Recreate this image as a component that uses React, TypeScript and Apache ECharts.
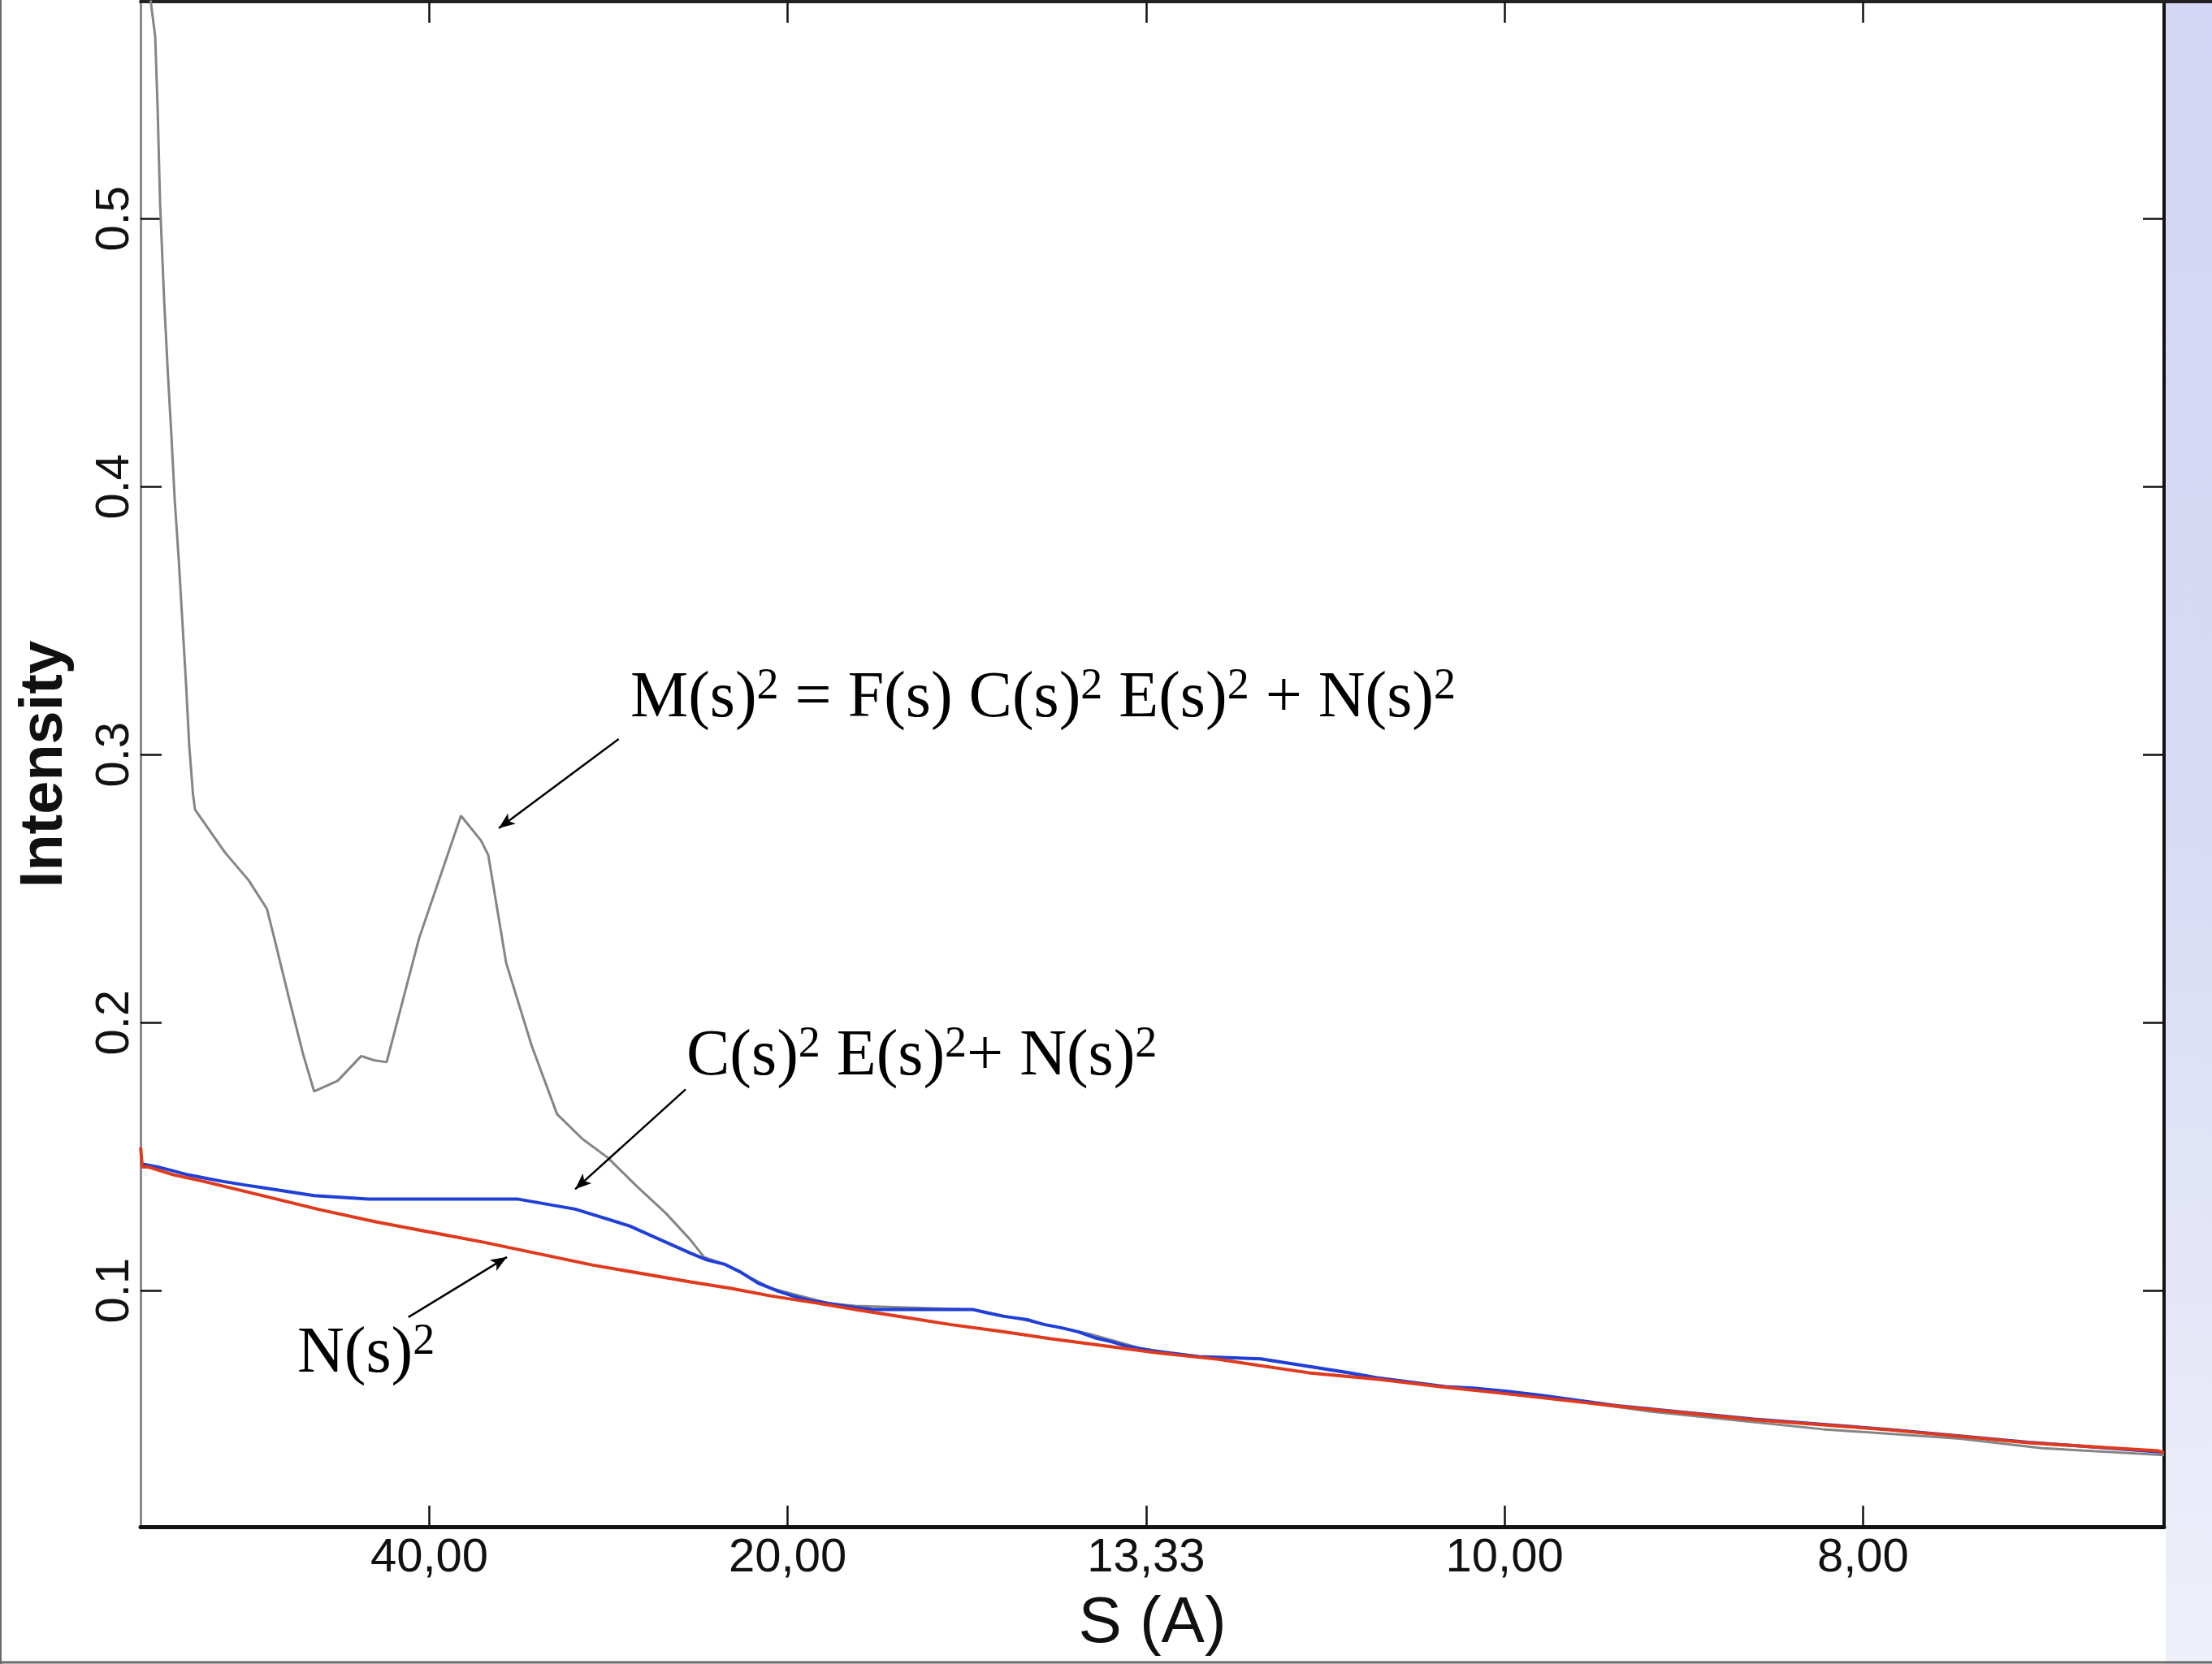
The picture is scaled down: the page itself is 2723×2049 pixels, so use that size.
import React, { useEffect, useRef } from "react";
import * as echarts from "echarts";

const W = 2723;
const H = 2049;

// x axis: spatial frequency s (1/Å); labels show the resolution 1/s
const xTickResolution = [40, 20, 13.333, 10, 8];
const yTicks = [0.1, 0.2, 0.3, 0.4, 0.5];
const xMin = 0.00486;
const xMax = 0.146;
const yMin = 0.0119;
const yMax = 0.581;

// M(s)^2 = F(s) C(s)^2 E(s)^2 + N(s)^2  (grey, measured)
const grayS = [
  0.005487, 0.005883, 0.006054, 0.006223, 0.006507, 0.006762, 0.007017, 0.007243, 0.007527,
  0.007781, 0.008036, 0.008263, 0.008518, 0.00866, 0.010756, 0.012399, 0.013679, 0.014184,
  0.015175, 0.016195, 0.016966, 0.018609, 0.020252, 0.021125, 0.022025, 0.024297, 0.02721,
  0.028603, 0.029113, 0.03036, 0.032144, 0.033912, 0.035685, 0.037442, 0.039481, 0.041498,
  0.04322, 0.044161, 0.045572, 0.048858, 0.052852, 0.054722, 0.06305, 0.066337, 0.071152,
  0.074693, 0.078688, 0.082994, 0.086337, 0.091096, 0.095895, 0.1002, 0.110241, 0.1222,
  0.131752, 0.137498, 0.146,
];
const grayI = [
  0.58467, 0.568, 0.54073, 0.50588, 0.46952, 0.44285, 0.41861, 0.39527, 0.37255,
  0.34952, 0.32618, 0.30285, 0.28527, 0.27952, 0.26345, 0.25315, 0.24242, 0.23164,
  0.20997, 0.1883, 0.17439, 0.1783, 0.18755, 0.186, 0.18527, 0.23164, 0.27721,
  0.268, 0.26255, 0.22233, 0.19139, 0.16588, 0.15661, 0.14967, 0.13891, 0.12891,
  0.11891, 0.11255, 0.10991, 0.10082, 0.09527, 0.09436, 0.09285, 0.08921, 0.08376,
  0.07839, 0.07536, 0.07458, 0.07164, 0.06739, 0.06397, 0.06224, 0.05488, 0.0483,
  0.04476, 0.04124, 0.03861,
];

// C(s)^2 E(s)^2 + N(s)^2  (blue)
const blueS = [
  0.00487, 0.006054, 0.007158, 0.00815, 0.009311, 0.010643, 0.012031, 0.013674, 0.016966,
  0.020762, 0.03113, 0.035175, 0.038971, 0.04322, 0.044393, 0.045572, 0.046733, 0.047923,
  0.049328, 0.050501, 0.051662, 0.054268, 0.055911, 0.062937, 0.0639, 0.065067, 0.06671,
  0.067866, 0.069056, 0.070246, 0.071407, 0.072569, 0.073532, 0.075629, 0.078688, 0.082994,
  0.086337, 0.089204, 0.091096, 0.095895, 0.097809, 0.1002, 0.102597, 0.107849, 0.117413,
  0.12696, 0.136535, 0.146,
];
const blueI = [
  0.14739, 0.14618, 0.14467, 0.14324, 0.14203, 0.14073, 0.13952, 0.13821, 0.13545,
  0.13421, 0.13421, 0.13042, 0.12415, 0.11397, 0.11142, 0.10991, 0.10688, 0.10285,
  0.09982, 0.09779, 0.09627, 0.09406, 0.09294, 0.09294, 0.09173, 0.09042, 0.08921,
  0.08739, 0.08618, 0.08467, 0.08245, 0.08094, 0.07942, 0.07739, 0.07536, 0.07458,
  0.07173, 0.0693, 0.06748, 0.06421, 0.06367, 0.06245, 0.06094, 0.05709, 0.05209,
  0.04815, 0.04345, 0.03967,
];

// N(s)^2  (red)
const redS = [
  0.00487, 0.004977, 0.005374, 0.007158, 0.009311, 0.011408, 0.013447, 0.017442, 0.021266,
  0.028852, 0.036422, 0.04322, 0.046053, 0.048858, 0.052144, 0.054966, 0.058235, 0.061294,
  0.064807, 0.068354, 0.072116, 0.075629, 0.080048, 0.086337, 0.091096, 0.095895, 0.099708,
  0.107849, 0.117413, 0.12696, 0.136535, 0.1456, 0.146,
];
const redI = [
  0.15345, 0.14618, 0.1462, 0.14324, 0.14073, 0.138, 0.13536, 0.13012, 0.1257,
  0.118, 0.10952, 0.10327, 0.10082, 0.098, 0.09527, 0.09276, 0.09003, 0.08739,
  0.08488, 0.08203, 0.07942, 0.07688, 0.07436, 0.06936, 0.067, 0.06397, 0.06179,
  0.05688, 0.05185, 0.048, 0.04324, 0.04021, 0.03952,
];

// annotation arrows: [tail s, tail I, head s, head I]
const arrows = [
  [0.038212, 0.30588, 0.029849, 0.27255],
  [0.042881, 0.17512, 0.035175, 0.13785],
  [0.023544, 0.09012, 0.030416, 0.11255],
];

// annotation formulas, as [text, superscript] runs
const labelRuns: [string, string][][] = [
  [["M(s)", "2"], [" = F(s) C(s)", "2"], [" E(s)", "2"], [" + N(s)", "2"]],
  [["C(s)", "2"], [" E(s)", "2"], ["+ N(s)", "2"]],
  [["N(s)", "2"]],
];

const zip = (a: number[], b: number[]) => a.map((v, i) => [v, b[i]]);

export default function App() {
  const ref = useRef<HTMLDivElement>(null);

  useEffect(() => {
    if (!ref.current) return;
    const chart = echarts.init(ref.current, undefined, { renderer: "svg" });
    const xTickS = xTickResolution.map((r) => 1 / r);
    const sans = "Liberation Sans";
    const serif = "Liberation Serif";

    const xBase = {
      type: "value" as const,
      min: xMin,
      max: xMax,
      splitLine: { show: false },
    };
    const yBase = {
      type: "value" as const,
      min: yMin,
      max: yMax,
      splitLine: { show: false },
    };

    const labelPos = [
      [776, 855],
      [845, 1296],
      [366, 1662],
    ];

    const richText = (runs: [string, string][]) =>
      runs.map(([t, s]) => `{t|${t}}{s|${s}}`).join("");

    chart.setOption({
      animation: false,
      backgroundColor: "#ffffff",
      grid: {
        left: 173,
        right: 59,
        top: 2,
        bottom: 169,
        containLabel: false,
        outerBoundsMode: "none",
      },
      xAxis: [
        {
          ...xBase,
          position: "bottom",
          axisLine: { show: true, onZero: false, lineStyle: { color: "#111", width: 5 } },
          axisTick: {
            show: true,
            inside: true,
            length: 26,
            customValues: xTickS,
            lineStyle: { color: "#111", width: 2.5 },
          },
          axisLabel: {
            show: true,
            customValues: xTickS,
            formatter: (v: number) => (1 / v).toFixed(2).replace(".", ","),
            fontFamily: sans,
            fontSize: 58,
            color: "#111",
            margin: 5,
          },
          name: "S (A)",
          nameLocation: "middle",
          nameGap: 74,
          nameTextStyle: { fontFamily: sans, fontSize: 80, color: "#111" },
        },
        {
          ...xBase,
          position: "top",
          axisLine: { show: true, onZero: false, lineStyle: { color: "#222", width: 4 } },
          axisTick: {
            show: true,
            inside: true,
            length: 26,
            customValues: xTickS,
            lineStyle: { color: "#111", width: 2.5 },
          },
          axisLabel: { show: false },
        },
      ],
      yAxis: [
        {
          ...yBase,
          position: "left",
          axisLine: { show: true, onZero: false, lineStyle: { color: "#8a8a8a", width: 3 } },
          axisTick: {
            show: true,
            inside: true,
            length: 26,
            customValues: yTicks,
            lineStyle: { color: "#111", width: 2.5 },
          },
          axisLabel: {
            show: true,
            customValues: yTicks,
            rotate: 90,
            formatter: (v: number) => String(Math.round(v * 10) / 10),
            fontFamily: sans,
            fontSize: 58,
            color: "#111",
            margin: 7,
          },
          name: "Intensity",
          nameLocation: "middle",
          nameGap: 86,
          nameTextStyle: { fontFamily: sans, fontSize: 74, fontWeight: "bold", color: "#111" },
        },
        {
          ...yBase,
          position: "right",
          axisLine: { show: true, onZero: false, lineStyle: { color: "#111", width: 4 } },
          axisTick: {
            show: true,
            inside: true,
            length: 26,
            customValues: yTicks,
            lineStyle: { color: "#111", width: 2.5 },
          },
          axisLabel: { show: false },
        },
      ],
      series: [
        {
          type: "line",
          name: "M(s)^2",
          data: zip(grayS, grayI),
          showSymbol: false,
          symbol: "none",
          lineStyle: { color: "#858585", width: 3 },
          clip: true,
          silent: true,
          z: 2,
        },
        {
          type: "line",
          name: "C(s)^2 E(s)^2 + N(s)^2",
          data: zip(blueS, blueI),
          showSymbol: false,
          symbol: "none",
          lineStyle: { color: "#1f3fd8", width: 4 },
          clip: true,
          silent: true,
          z: 3,
        },
        {
          type: "line",
          name: "N(s)^2",
          data: zip(redS, redI),
          showSymbol: false,
          symbol: "none",
          lineStyle: { color: "#e0391c", width: 4 },
          clip: true,
          silent: true,
          z: 4,
          markLine: {
            silent: true,
            symbol: ["none", "arrow"],
            symbolSize: [12, 20],
            label: { show: false },
            lineStyle: { color: "#000", width: 2.5, type: "solid" },
            emphasis: { disabled: true },
            data: arrows.map((a) => [
              { coord: [a[0], a[1]] },
              { coord: [a[2], a[3]] },
            ]),
          },
        },
      ],
      graphic: [
        {
          type: "rect",
          shape: { x: 2666, y: 0, width: W - 2666, height: H },
          style: {
            fill: new echarts.graphic.LinearGradient(0, 0, 0, 1, [
              { offset: 0, color: "#d3d6f4" },
              { offset: 0.5, color: "#d9dbf5" },
              { offset: 1, color: "#eef0fa" },
            ]),
          },
          z: 0,
          silent: true,
        },
        {
          type: "line",
          shape: { x1: 2664, y1: 2, x2: W, y2: 2 },
          style: { stroke: "#222", lineWidth: 4 },
          silent: true,
        },
        {
          type: "line",
          shape: { x1: 1, y1: 0, x2: 1, y2: H },
          style: { stroke: "#6a6a6a", lineWidth: 2 },
          silent: true,
        },
        {
          type: "line",
          shape: { x1: 0, y1: H - 2, x2: W, y2: H - 2 },
          style: { stroke: "#6a6a6a", lineWidth: 3 },
          silent: true,
        },
        ...labelRuns.map((runs, i) => ({
          type: "text",
          x: labelPos[i][0],
          y: labelPos[i][1],
          z: 100,
          silent: true,
          style: {
            text: richText(runs),
            fill: "#000",
            fontFamily: serif,
            fontSize: 80,
            textAlign: "left",
            textVerticalAlign: "middle",
            rich: {
              t: { fontFamily: serif, fontSize: 80, lineHeight: 80, fill: "#000" },
              s: {
                fontFamily: serif,
                fontSize: 54,
                lineHeight: 54,
                verticalAlign: "top",
                fill: "#000",
              },
            },
          },
        })),
      ],
    });

    return () => chart.dispose();
  }, []);

  return (
    <div
      ref={ref}
      style={{ position: "fixed", left: 0, top: 0, width: W, height: H }}
    />
  );
}
